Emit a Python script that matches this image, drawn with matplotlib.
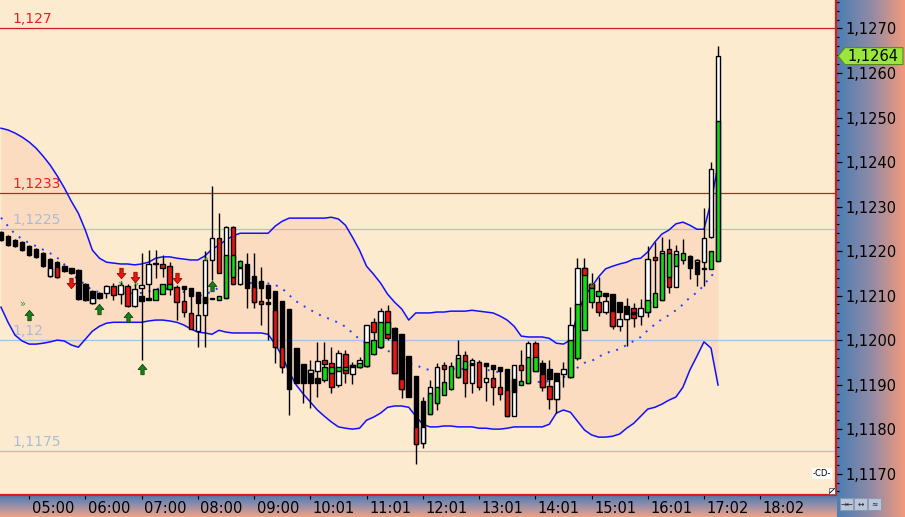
import numpy as np
import matplotlib
matplotlib.use("Agg")
import matplotlib.pyplot as plt
from matplotlib.path import Path
from matplotlib.colors import LinearSegmentedColormap
from matplotlib.patches import Polygon, Rectangle
import matplotlib.transforms as mtrans
from matplotlib.ticker import MultipleLocator, FixedLocator, FixedFormatter

plt.rcParams['font.family'] = ['DejaVu Sans']

# ---------------- data ----------------
high = [1.12245, 1.12236, 1.12227, 1.12222, 1.12213, 1.12206, 1.12197, 1.12184, 1.12178, 1.12168,
        1.12163, 1.12159, 1.12128, 1.12112, 1.12108, 1.12124, 1.12128, 1.12133, 1.12126, 1.12128,
        1.12195, 1.12202, 1.12202, 1.12191, 1.12175, 1.12124, 1.12121, 1.12118, 1.12108, 1.12201,
        1.12346, 1.12285, 1.12256, 1.12256, 1.12180, 1.12195, 1.12195, 1.12164, 1.12124, 1.12110,
        1.12088, 1.12070, 1.11982, 1.11946, 1.11955, 1.11996, 1.11996, 1.11984, 1.11978, 1.11978,
        1.11951, 1.11962, 1.12034, 1.12049, 1.12072, 1.12079, 1.12029, 1.12013, 1.11964, 1.11919,
        1.11872, 1.11910, 1.11948, 1.11951, 1.11951, 1.12000, 1.11975, 1.11960, 1.11955, 1.11948,
        1.11945, 1.11939, 1.11936, 1.11945, 1.11978, 1.11998, 1.11998, 1.11955, 1.11955, 1.11926,
        1.11951, 1.12074, 1.12184, 1.12184, 1.12150, 1.12142, 1.12105, 1.12103, 1.12085, 1.12095,
        1.12083, 1.12092, 1.12212, 1.12221, 1.12232, 1.12227, 1.12213, 1.12228, 1.12191, 1.12182,
        1.12296, 1.12401, 1.12661]
low = [1.12223, 1.12211, 1.12209, 1.12200, 1.12190, 1.12185, 1.12164, 1.12142, 1.12140, 1.12154,
       1.12149, 1.12090, 1.12088, 1.12082, 1.12093, 1.12094, 1.12090, 1.12081, 1.12074, 1.12074,
       1.11955, 1.12095, 1.12139, 1.12142, 1.12101, 1.12045, 1.12052, 1.12024, 1.11984, 1.11985,
       1.12135, 1.12150, 1.12094, 1.12127, 1.12124, 1.12072, 1.12072, 1.12034, 1.12000, 1.11948,
       1.11926, 1.11831, 1.11904, 1.11858, 1.11847, 1.11872, 1.11906, 1.11881, 1.11894, 1.11903,
       1.11901, 1.11937, 1.11939, 1.11966, 1.11982, 1.12000, 1.11926, 1.11870, 1.11873, 1.11721,
       1.11757, 1.11834, 1.11843, 1.11876, 1.11888, 1.11915, 1.11873, 1.11882, 1.11888, 1.11864,
       1.11854, 1.11865, 1.11829, 1.11829, 1.11898, 1.11903, 1.11930, 1.11885, 1.11845, 1.11836,
       1.11895, 1.11915, 1.11955, 1.12022, 1.12071, 1.12055, 1.12058, 1.12025, 1.12021, 1.11987,
       1.12029, 1.12034, 1.12052, 1.12074, 1.12090, 1.12105, 1.12119, 1.12172, 1.12137, 1.12122,
       1.12121, 1.12229, 1.12178]
body_top = [1.12243, 1.12234, 1.12225, 1.12220, 1.12211, 1.12204, 1.12195, 1.12182, 1.12175, 1.12166,
            1.12161, 1.12157, 1.12126, 1.12110, 1.12106, 1.12122, 1.12121, 1.12123, 1.12121, 1.12115,
            1.12099, 1.12171, 1.12173, 1.12172, 1.12166, 1.12120, 1.12121, 1.12118, 1.12108, 1.12180,
            1.12229, 1.12229, 1.12253, 1.12253, 1.12161, 1.12172, 1.12144, 1.12133, 1.12124, 1.12110,
            1.12088, 1.12070, 1.11982, 1.11946, 1.11933, 1.11953, 1.11955, 1.11948, 1.11971, 1.11969,
            1.11944, 1.11955, 1.12034, 1.12040, 1.12065, 1.12065, 1.12028, 1.12013, 1.11964, 1.11919,
            1.11863, 1.11894, 1.11939, 1.11945, 1.11941, 1.11966, 1.11966, 1.11955, 1.11951, 1.11948,
            1.11945, 1.11939, 1.11936, 1.11945, 1.11943, 1.11993, 1.11993, 1.11948, 1.11936, 1.11925,
            1.11936, 1.12034, 1.12163, 1.12162, 1.12127, 1.12110, 1.12105, 1.12103, 1.12085, 1.12076,
            1.12071, 1.12071, 1.12182, 1.12186, 1.12200, 1.12204, 1.12200, 1.12195, 1.12189, 1.12180,
            1.12229, 1.12384, 1.12638]
body_bot = [1.12225, 1.12213, 1.12211, 1.12202, 1.12192, 1.12187, 1.12166, 1.12144, 1.12142, 1.12156,
            1.12151, 1.12092, 1.12090, 1.12084, 1.12095, 1.12106, 1.12101, 1.12103, 1.12077, 1.12077,
            1.12088, 1.12125, 1.12170, 1.12163, 1.12114, 1.12086, 1.12114, 1.12099, 1.12084, 1.12056,
            1.12180, 1.12151, 1.12094, 1.12127, 1.12127, 1.12116, 1.12086, 1.12116, 1.12094, 1.11985,
            1.11939, 1.11891, 1.11904, 1.11904, 1.11904, 1.11930, 1.11946, 1.11894, 1.11900, 1.11926,
            1.11923, 1.11939, 1.11942, 1.12019, 1.11984, 1.12005, 1.11927, 1.11890, 1.11873, 1.11766,
            1.11768, 1.11834, 1.11858, 1.11934, 1.11891, 1.11916, 1.11903, 1.11903, 1.11894, 1.11942,
            1.11934, 1.11931, 1.11829, 1.11829, 1.11933, 1.11904, 1.11931, 1.11895, 1.11912, 1.11867,
            1.11923, 1.11916, 1.11959, 1.12022, 1.12085, 1.12100, 1.12100, 1.12032, 1.12064, 1.12047,
            1.12050, 1.12054, 1.12062, 1.12180, 1.12091, 1.12120, 1.12120, 1.12181, 1.12162, 1.12148,
            1.12176, 1.12232, 1.12178]
body_col = ("kkkkkkkkkk" "kkkkkwrwrw" "kwkrrrkkkw" "wrwrwkkkkk" "kkkkkwrrwr"
            "wwwrwrkkkk" "kwwrgwrwrk" "kkkwrwrkkk" "wwwgggkkkk" "rwwrwrwgkk" "www")

seg_idx = [7, 8, 13, 20, 21, 22, 23, 24, 26, 27, 28, 29, 30, 31, 32, 33, 34, 36, 37, 38,
           39, 40, 44, 45, 46, 47, 48, 49, 50, 51, 52, 53, 54, 55, 56, 57, 59, 60, 61, 62,
           63, 65, 66, 67, 69, 70, 71, 72, 73, 74, 75, 76, 77, 78, 79, 81, 82, 83, 84, 85,
           86, 87, 88, 89, 90, 92, 93, 94, 95, 96, 99, 100, 101, 102]
seg_top = [1.12161, 1.12164, 1.12094, 1.12124, 1.12095, 1.12115, 1.12126, 1.12127, 1.12088, 1.12060,
           1.12056, 1.12097, 1.12094, 1.12099, 1.12191, 1.12191, 1.12178, 1.12119, 1.12088, 1.12086,
           1.12067, 1.11985, 1.11933, 1.11915, 1.11939, 1.11939, 1.11939, 1.11939, 1.11944, 1.11948,
           1.11995, 1.12000, 1.12040, 1.12040, 1.12000, 1.11912, 1.11804, 1.11804, 1.11882, 1.11895,
           1.11905, 1.11959, 1.11953, 1.11949, 1.11915, 1.11914, 1.11894, 1.11888, 1.11912, 1.11909,
           1.11961, 1.11961, 1.11924, 1.11897, 1.11909, 1.12000, 1.12082, 1.12162, 1.12127, 1.12086,
           1.12088, 1.12066, 1.12047, 1.12058, 1.12062, 1.12091, 1.12105, 1.12195, 1.12195, 1.12193,
           1.12180, 1.12163, 1.12200, 1.12493]
seg_bot = [1.12144, 1.12142, 1.12084, 1.12116, 1.12091, 1.12091, 1.12103, 1.12114, 1.12062, 1.12024,
           1.12021, 1.12084, 1.12092, 1.12091, 1.12094, 1.12142, 1.12165, 1.12086, 1.12082, 1.12082,
           1.11985, 1.11939, 1.11925, 1.11904, 1.11910, 1.11925, 1.11931, 1.11933, 1.11939, 1.11939,
           1.11942, 1.11968, 1.11984, 1.12013, 1.11927, 1.11890, 1.11766, 1.11768, 1.11834, 1.11858,
           1.11876, 1.11916, 1.11936, 1.11945, 1.11905, 1.11894, 1.11880, 1.11829, 1.11884, 1.11898,
           1.11904, 1.11931, 1.11895, 1.11867, 1.11867, 1.11916, 1.11959, 1.12146, 1.12118, 1.12064,
           1.12064, 1.12032, 1.12032, 1.12047, 1.12058, 1.12062, 1.12075, 1.12091, 1.12142, 1.12167,
           1.12175, 1.12160, 1.12160, 1.12178]
seg_col = ("wrwwkggg" "rrwkkggg" "grrk" "rrwkggggkgggggrrrwgg" "gggkwrrrkgggrrwggrrr"
           "wrwwkggggg" "wkgg")

upper = [1.12476, 1.12472, 1.12465, 1.12456, 1.12445, 1.12431, 1.12413, 1.12393, 1.12369, 1.12342,
         1.12312, 1.12285, 1.12247, 1.12202, 1.12184, 1.12175, 1.12173, 1.12171, 1.12171, 1.12169,
         1.12171, 1.12175, 1.12184, 1.12187, 1.12187, 1.12184, 1.12182, 1.12180, 1.12180, 1.12189,
         1.12204, 1.12213, 1.12225, 1.12234, 1.12240, 1.12240, 1.12240, 1.12240, 1.12240, 1.12256,
         1.12267, 1.12274, 1.12274, 1.12274, 1.12274, 1.12274, 1.12274, 1.12276, 1.12272, 1.12258,
         1.12231, 1.12202, 1.12166, 1.12148, 1.12128, 1.12103, 1.12085, 1.12070, 1.12045, 1.12061,
         1.12061, 1.12061, 1.12063, 1.12063, 1.12065, 1.12065, 1.12065, 1.12067, 1.12065, 1.12063,
         1.12061, 1.12054, 1.12045, 1.12031, 1.12009, 1.12007, 1.12007, 1.12007, 1.12004, 1.11993,
         1.11991, 1.12000, 1.12058, 1.12099, 1.12119, 1.12142, 1.12160, 1.12166, 1.12171, 1.12175,
         1.12182, 1.12184, 1.12198, 1.12220, 1.12238, 1.12247, 1.12261, 1.12265, 1.12258, 1.12249,
         1.12249, 1.12310, 1.12393]
lower = [1.12074, 1.12040, 1.12011, 1.11998, 1.11991, 1.11991, 1.11993, 1.11996, 1.12000, 1.11998,
         1.11989, 1.11984, 1.12002, 1.12020, 1.12031, 1.12038, 1.12040, 1.12040, 1.12040, 1.12040,
         1.12040, 1.12043, 1.12045, 1.12045, 1.12043, 1.12040, 1.12034, 1.12025, 1.12018, 1.12016,
         1.12013, 1.12022, 1.12018, 1.12016, 1.12016, 1.12016, 1.12016, 1.12016, 1.12013, 1.11991,
         1.11964, 1.11928, 1.11899, 1.11879, 1.11861, 1.11843, 1.11829, 1.11816, 1.11805, 1.11802,
         1.11800, 1.11802, 1.11820, 1.11827, 1.11836, 1.11849, 1.11852, 1.11852, 1.11849, 1.11829,
         1.11811, 1.11805, 1.11805, 1.11807, 1.11807, 1.11805, 1.11805, 1.11805, 1.11802, 1.11802,
         1.11800, 1.11800, 1.11802, 1.11805, 1.11805, 1.11805, 1.11805, 1.11805, 1.11811, 1.11836,
         1.11843, 1.11838, 1.11818, 1.11798, 1.11787, 1.11782, 1.11782, 1.11784, 1.11789, 1.11802,
         1.11813, 1.11829, 1.11845, 1.11849, 1.11856, 1.11865, 1.11872, 1.11894, 1.11933, 1.11964,
         1.11996, 1.11982, 1.11899]
middle = [1.12275, 1.12256, 1.12238, 1.12227, 1.12218, 1.12211, 1.12203, 1.12195, 1.12185, 1.12170,
          1.12151, 1.12135, 1.12125, 1.12111, 1.12108, 1.12107, 1.12107, 1.12106, 1.12106, 1.12105,
          1.12106, 1.12109, 1.12115, 1.12116, 1.12115, 1.12112, 1.12108, 1.12103, 1.12099, 1.12103,
          1.12109, 1.12118, 1.12122, 1.12125, 1.12128, 1.12128, 1.12128, 1.12128, 1.12127, 1.12124,
          1.12116, 1.12101, 1.12087, 1.12077, 1.12068, 1.12059, 1.12052, 1.12046, 1.12039, 1.12030,
          1.12016, 1.12002, 1.11993, 1.11988, 1.11982, 1.11976, 1.11969, 1.11961, 1.11947, 1.11945,
          1.11936, 1.11933, 1.11934, 1.11935, 1.11936, 1.11935, 1.11935, 1.11936, 1.11934, 1.11933,
          1.11931, 1.11927, 1.11924, 1.11918, 1.11907, 1.11906, 1.11906, 1.11906, 1.11908, 1.11915,
          1.11917, 1.11919, 1.11938, 1.11949, 1.11953, 1.11962, 1.11971, 1.11975, 1.11980, 1.11989,
          1.11998, 1.12007, 1.12022, 1.12035, 1.12047, 1.12056, 1.12067, 1.12080, 1.12096, 1.12107,
          1.12123, 1.12146, 1.12146]

buy_idx = [4, 14, 18, 20, 30]
buy_price = [1.12056, 1.12070, 1.12052, 1.11935, 1.12122]
sell_idx = [10, 17, 19, 25]
sell_price = [1.12128, 1.12151, 1.12142, 1.12139]
sig_idx = [3, 17, 19, 29, 84]
sig_price = [1.12081, 1.12126, 1.12126, 1.12182, 1.12124]

levels = [1.1270, 1.1233, 1.1225, 1.1200, 1.1175]
level_labels = ["1,127", "1,1233", "1,1225", "1,12", "1,1175"]
level_kind = ["red", "red", "blue", "blue", "blue"]

time_idx = [4, 12, 20, 28, 36, 44, 52, 60, 68, 76, 84, 92, 100, 108]
time_labels = ["05:00", "06:00", "07:00", "08:00", "09:00", "10:01", "11:01",
               "12:01", "13:01", "14:01", "15:01", "16:01", "17:02", "18:02"]

# ---------------- figure ----------------
W, H = 905, 517
fig = plt.figure(figsize=(W / 100, H / 100), dpi=100)

bg = fig.add_axes([0, 0, 1, 1], zorder=-1)
bg.set_xlim(0, W)
bg.set_ylim(H, 0)
bg.axis('off')
cm_r = LinearSegmentedColormap.from_list('r', ['#4a7db4', '#8f8aa6', '#f39a7b'])
bg.imshow(np.linspace(0, 1, 256)[None, :], extent=[836, W, H, 0], cmap=cm_r, aspect='auto')
cm_b = LinearSegmentedColormap.from_list('b', ['#4d7bb1', '#9a90a8', '#f0a282'])
bg.imshow(np.linspace(0, 1, 64)[:, None], extent=[0, 836, H, 495], cmap=cm_b, aspect='auto')
# small buttons bottom right
for bx, sym in zip([840, 854, 868], ["→←", "↔", "≈"]):
    bg.add_patch(Rectangle((bx, 498), 13, 12, facecolor='#b9c5d8', edgecolor='#8a98b0', lw=0.6))
    bg.text(bx + 6.5, 504, sym, fontsize=5.5, ha='center', va='center', color='#202020')

ax = fig.add_axes([0, 22 / H, 836 / W, 495 / H], zorder=1)
ax.set_facecolor('#fdebd0')
n = len(high)
x = np.arange(n)
ax.set_xlim(-0.142, 118.78)
ax.set_ylim(1.11652, 1.12764)

# band
ax.fill_between(x, lower, upper, color='#fcdcc1', lw=0, zorder=1)

# horizontal levels
for lv, lab, kind in zip(levels, level_labels, level_kind):
    lc = '#c42020' if kind == 'red' else '#a9c0de'
    tc = '#e8201c' if kind == 'red' else '#a8bcda'
    ax.axhline(lv, color=lc, lw=0.9, zorder=2)
    ax.annotate(lab, xy=(0.0145, lv), xycoords=ax.get_yaxis_transform(),
                xytext=(0, 1.5), textcoords='offset points', ha='left', va='bottom',
                fontsize=10, color=tc, zorder=2)

ax.plot(x, upper, color='#1010ff', lw=1.1, zorder=3)
ax.plot(x, lower, color='#1010ff', lw=1.1, zorder=3)
ax.plot(x, middle, color='#2040ff', lw=1.4, ls=(0, (1, 3.5)), zorder=3)

# candles
cmap = {'w': '#ffffff', 'k': '#000000', 'r': '#ee1414', 'g': '#12dc12'}
ax.vlines(x, low, high, color='black', lw=1.0, zorder=4)
bt = np.array(body_top)
bb = np.array(body_bot)
ax.bar(x, bt - bb, bottom=bb, width=0.64, color=[cmap[c] for c in body_col],
       edgecolor='black', linewidth=1.0, zorder=5)
st = np.array(seg_top)
sb = np.array(seg_bot)
ax.bar(seg_idx, st - sb, bottom=sb, width=0.64, color=[cmap[c] for c in seg_col],
       edgecolor='black', linewidth=1.0, zorder=6)

# arrows
up_path = Path([(0, 0.5), (0.42, 0.0), (0.16, 0.0), (0.16, -0.5), (-0.16, -0.5),
                (-0.16, 0.0), (-0.42, 0.0), (0, 0.5)],
               [Path.MOVETO] + [Path.LINETO] * 6 + [Path.CLOSEPOLY])
dn_path = Path([(vx, -vy) for vx, vy in up_path.vertices], up_path.codes)
ax.plot(buy_idx, buy_price, ls='none', marker=up_path, ms=7.5, color='#1f7d1f',
        mec='#0c4a0c', mew=0.6, zorder=7)
ax.plot(sell_idx, sell_price, ls='none', marker=dn_path, ms=7.5, color='#ea1610',
        mec='#a00000', mew=0.6, zorder=7)
for i, p in zip(sig_idx, sig_price):
    ax.text(i, p, "»", fontsize=7, color='#2c9a2c', ha='center', va='center', zorder=7)

# axes styling
for s in ['top', 'left']:
    ax.spines[s].set_visible(False)
ax.spines['right'].set_color('#e01818')
ax.spines['right'].set_linewidth(1.6)
ax.spines['bottom'].set_color('#e01818')
ax.spines['bottom'].set_linewidth(1.6)

ax.yaxis.tick_right()
yt = np.round(np.arange(1.1170, 1.12705, 0.001), 4)
ax.yaxis.set_major_locator(FixedLocator(yt))
ax.yaxis.set_major_formatter(FixedFormatter([f"{v:.4f}".replace('.', ',') for v in yt]))
ax.yaxis.set_minor_locator(MultipleLocator(0.0002))
ax.tick_params(axis='y', which='major', length=4, width=0.9, pad=3, labelsize=10.5,
               colors='black', direction='out')
ax.tick_params(axis='y', which='minor', length=2, width=0.8, colors='black', direction='out')

ax.set_xticks(time_idx)
ax.set_xticklabels([])
ax.tick_params(axis='x', which='major', length=3, width=0.8, colors='black', direction='out')
for ti, tl in zip(time_idx, time_labels):
    ax.text(ti + 0.35, -0.0265, tl, transform=ax.get_xaxis_transform(), ha='left',
            va='center', fontsize=10.5, color='black', clip_on=False)

# current price tag
trans = mtrans.blended_transform_factory(ax.transAxes, ax.transData)
c = body_top[-1]
dy = 0.00019
tag = Polygon([(1.0024, c), (1.0108, c + dy), (1.0801, c + dy), (1.0801, c - dy), (1.0108, c - dy)],
              closed=True, transform=trans, facecolor='#9ae63c', edgecolor='#4f8f1c',
              lw=0.8, clip_on=False, zorder=10)
ax.add_patch(tag)
ax.text(1.0135, c, f"{c:.4f}".replace('.', ','), transform=trans, ha='left', va='center',
        fontsize=10.5, color='black', clip_on=False, zorder=11)

# small widgets inside the plot
ax.text(0.983, 0.043, "-CD-", transform=ax.transAxes, fontsize=6, ha='center', va='center',
        color='black', bbox=dict(boxstyle='square,pad=0.1', fc='white', ec='none'), zorder=8)
ax.add_patch(Rectangle((0.9915, 0.002), 0.0075, 0.012, transform=ax.transAxes,
                       facecolor='white', edgecolor='#606060', lw=0.6, zorder=8))
ax.plot([0.9925, 0.998], [0.004, 0.0125], transform=ax.transAxes, color='black', lw=0.6, zorder=9)

fig.savefig("out.png", dpi=100)
